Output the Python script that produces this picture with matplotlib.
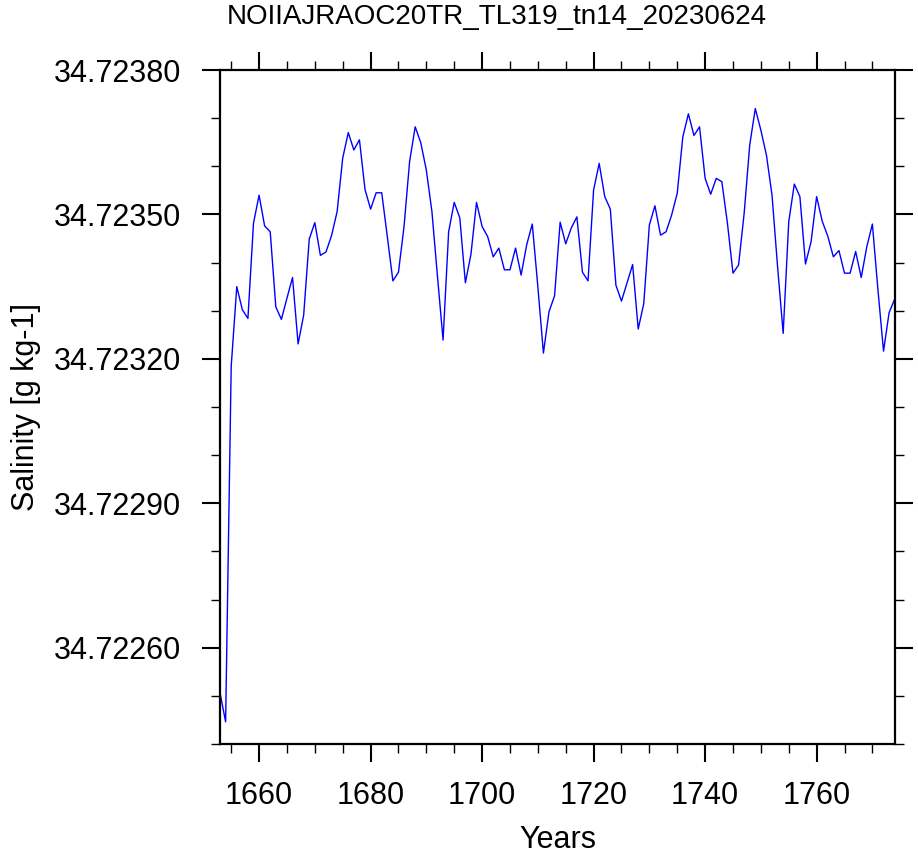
import matplotlib
matplotlib.use("Agg")
import matplotlib.pyplot as plt
from matplotlib import font_manager
from matplotlib.ticker import MultipleLocator, FormatStrFormatter

plt.rcParams['font.family'] = ['Liberation Sans', 'DejaVu Sans']

# annual mean salinity, years 1653-1774
years = list(range(1653, 1775))
salinity = [
    34.722506, 34.722446, 34.723184, 34.723350, 34.723302, 34.723284, 34.723482,
    34.723540, 34.723476, 34.723464, 34.723308, 34.723282, 34.723326, 34.723369,
    34.723231, 34.723291, 34.723449, 34.723483, 34.723415, 34.723422, 34.723456,
    34.723506, 34.723617, 34.723670, 34.723634, 34.723655, 34.723552, 34.723511,
    34.723545, 34.723545, 34.723454, 34.723362, 34.723380, 34.723475, 34.723610,
    34.723682, 34.723649, 34.723592, 34.723506, 34.723371, 34.723239, 34.723464,
    34.723525, 34.723493, 34.723358, 34.723417, 34.723525, 34.723475, 34.723454,
    34.723412, 34.723430, 34.723385, 34.723385, 34.723430, 34.723374, 34.723437,
    34.723480, 34.723350, 34.723212, 34.723298, 34.723331, 34.723484, 34.723439,
    34.723472, 34.723495, 34.723380, 34.723362, 34.723551, 34.723606, 34.723537,
    34.723511, 34.723353, 34.723320, 34.723358, 34.723396, 34.723262, 34.723315,
    34.723478, 34.723518, 34.723457, 34.723464, 34.723499, 34.723544, 34.723661,
    34.723709, 34.723664, 34.723682, 34.723575, 34.723542, 34.723575, 34.723568,
    34.723482, 34.723378, 34.723395, 34.723502, 34.723644, 34.723720, 34.723675,
    34.723623, 34.723540, 34.723391, 34.723253, 34.723485, 34.723563, 34.723537,
    34.723397, 34.723443, 34.723537, 34.723486, 34.723455, 34.723412, 34.723425,
    34.723378, 34.723378, 34.723423, 34.723369, 34.723433, 34.723480, 34.723343,
    34.723216, 34.723296, 34.723324,
]

title = "NOIIAJRAOC20TR_TL319_tn14_20230624"

# title in the reference is set in a narrow face; use one if installed
title_family = None
title_size = 20
for name in ['Liberation Sans Narrow', 'DejaVu Sans Condensed']:
    try:
        font_manager.findfont(name, fallback_to_default=False)
        title_family = [name, 'DejaVu Sans']
        title_size = 22 if 'Narrow' in name else 19
        break
    except ValueError:
        pass
if title_family is None:
    title_family = ['Liberation Sans', 'DejaVu Sans']

fig = plt.figure(figsize=(9.18, 8.58), dpi=100)
ax = fig.add_axes([0.2397, 0.1329, 0.7349, 0.7855])

ax.plot(years, salinity, color="#0000ff", linewidth=1.0)

ax.set_xlim(1653, 1774)
ax.set_ylim(34.7224, 34.7238)

ax.xaxis.set_major_locator(MultipleLocator(20))
ax.xaxis.set_minor_locator(MultipleLocator(5))
ax.yaxis.set_major_locator(MultipleLocator(0.0003))
ax.yaxis.set_minor_locator(MultipleLocator(0.0001))
ax.yaxis.set_major_formatter(FormatStrFormatter("%.5f"))

ax.tick_params(which="both", direction="out", top=True, right=True,
               labeltop=False, labelright=False, labelsize=22)
ax.tick_params(which="major", length=13, width=1.5)
ax.tick_params(which="minor", length=6.5, width=1.0)
ax.tick_params(axis="x", which="major", pad=14)
ax.tick_params(axis="y", which="major", pad=15)
for sp in ax.spines.values():
    sp.set_linewidth(1.6)

ax.set_xlabel("Years", fontsize=22, labelpad=10)
ax.set_ylabel("Salinity [g kg-1]", fontsize=22, labelpad=9)

fig.text(497 / 918, 1 - 17 / 858, title, ha="center", va="center",
         fontsize=title_size, family=title_family)

fig.savefig("out.png", dpi=100)
